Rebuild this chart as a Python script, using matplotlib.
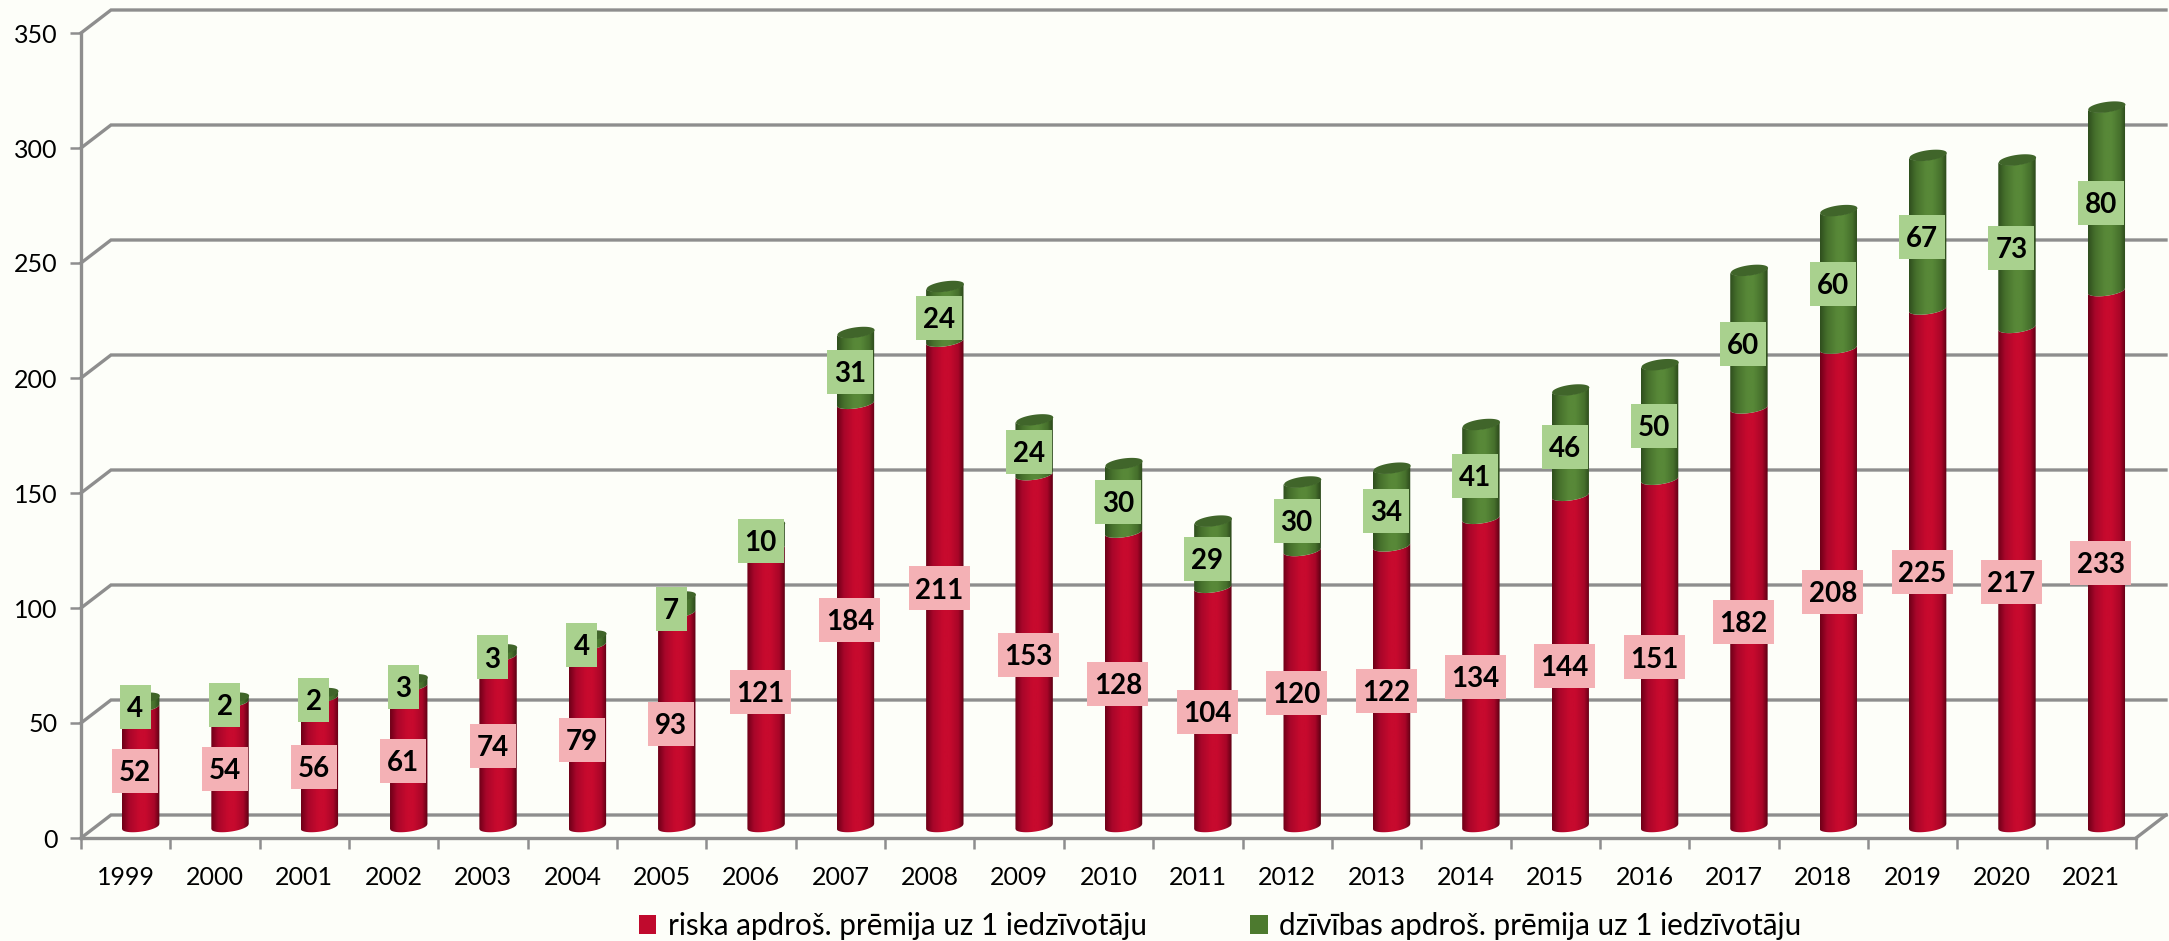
import numpy as np
import matplotlib
matplotlib.use("Agg")
import matplotlib.pyplot as plt
from matplotlib.colors import LinearSegmentedColormap
from matplotlib.patches import Rectangle, PathPatch
from matplotlib.path import Path

plt.rcParams['font.family'] = ['Lato', 'DejaVu Sans']

years = [str(y) for y in range(1999, 2022)]
risk = [52, 54, 56, 61, 74, 79, 93, 121, 184, 211, 153, 128, 104, 120, 122, 134, 144, 151, 182, 208, 225, 217, 233]
life = [4, 2, 2, 3, 3, 4, 7, 10, 31, 24, 24, 30, 29, 30, 34, 41, 46, 50, 60, 60, 67, 73, 80]
risk_name = "riska apdroš. prēmija uz 1 iedzīvotāju"
life_name = "dzīvības apdroš. prēmija uz 1 iedzīvotāju"
yticks = [0, 50, 100, 150, 200, 250, 300, 350]

W, H = 2169, 941
BG = '#FDFEF9'
GRID = '#8E8E8E'
fig = plt.figure(figsize=(W / 100, H / 100), dpi=100, facecolor=BG)
L, R, T, B = 81, 2136, 33, 838
ax = fig.add_axes([L / W, 1 - B / H, (R - L) / W, (B - T) / H])
ax.set_facecolor('none')
ax.set_xlim(-0.5, 22.5)
ax.set_ylim(0, 350)

pxx = (R - L) / 23     # px per category
pxy = (B - T) / 350    # px per value unit
DX, DY = 30 / pxx, 23 / pxy   # depth of the 3D box in data units

# walls
for v in yticks:
    ax.plot([-0.5, -0.5 + DX, 22.5 + DX],
            [v, v + DY, v + DY], color=GRID, lw=2.4, clip_on=False, zorder=1,
            solid_joinstyle='miter')
ax.plot([22.5, 22.5 + DX], [0, DY], color=GRID, lw=2.4, clip_on=False, zorder=1)

red_cm = LinearSegmentedColormap.from_list('r', [(0, '#6E0018'), (0.18, '#A8062A'), (0.45, '#C70A2E'),
                                                  (0.62, '#C70A2E'), (0.86, '#A80628'), (1, '#5E0014')])
grn_cm = LinearSegmentedColormap.from_list('g', [(0, '#2F4F1E'), (0.18, '#46702C'), (0.45, '#588838'),
                                                  (0.62, '#588838'), (0.86, '#46702C'), (1, '#2B481B')])
top_col = '#40652A'
grad = np.linspace(0, 1, 64)[None, :]

half_w = 18.7 / pxx
bminor = 5.2 / pxy
tilt = 0.13 * pxx / pxy   # rise in value per category


def ell(u, sign):
    """u in -1..1 over bar width: y offset of the tilted ellipse"""
    return tilt * half_w * u + sign * bminor * np.sqrt(1 - u ** 2)


u = np.linspace(-1, 1, 60)


def cylinder(xc, y0, y1, cmap, z):
    xs = xc + u * half_w
    lower = y0 + ell(u, -1)
    upper = y1 + ell(u[::-1], -1)
    verts = np.r_[np.c_[xs, lower], np.c_[xs[::-1], upper], [[xs[0], lower[0]]]]
    codes = [Path.MOVETO] + [Path.LINETO] * (len(verts) - 2) + [Path.CLOSEPOLY]
    im = ax.imshow(grad, cmap=cmap, extent=[xc - half_w, xc + half_w, y0 - 10, y1 + 10],
                   aspect='auto', zorder=z, clip_on=True, interpolation='bilinear')
    patch = PathPatch(Path(verts, codes), transform=ax.transData, fc='none', ec='none')
    ax.add_patch(patch)
    patch.set_clip_on(False)
    im.set_clip_path(patch)


xoff = 15 / pxx
base = 11.5 / pxy
for i, (r, g) in enumerate(zip(risk, life)):
    xc = i + xoff
    cylinder(xc, base, base + r, red_cm, 3)
    cylinder(xc, base + r, base + r + g, grn_cm, 3)
    xs = xc + u * half_w
    yt = base + r + g
    ax.fill_between(xs, yt + ell(u, -1), yt + ell(u, 1), color=top_col, lw=0, zorder=4, clip_on=False)

# data labels
lx = 9.5 / pxx
ly = 3
boxh = 44 / pxy
widths = {1: 31, 2: 46, 3: 61}


def label(x, y, val, col):
    s = str(val)
    w = widths[len(s)] / pxx
    ax.add_patch(Rectangle((x - w / 2, y - boxh / 2), w, boxh, fc=col, ec='none', zorder=5, clip_on=False))
    ax.text(x, y - 0.9, s, ha='center', va='center', fontsize=20, fontweight='bold', color='black', zorder=6)


for i, (r, g) in enumerate(zip(risk, life)):
    label(i + lx, r / 2 + ly, r, '#F4B1B5')
    label(i + lx, r + g / 2 + ly, g, '#A9D18E')

# axes
for s in ('top', 'right'):
    ax.spines[s].set_visible(False)
for s in ('left', 'bottom'):
    ax.spines[s].set_color(GRID)
    ax.spines[s].set_linewidth(2.4)
    ax.spines[s].set_zorder(2)
ax.set_yticks(yticks)
ax.set_xticks(np.arange(-0.5, 23, 1))
ax.set_xticklabels([])
ax.set_xticks(np.arange(23), labels=years, minor=True)
ax.tick_params(axis='y', length=8, width=1.8, color=GRID, labelsize=18, pad=9, labelcolor='black')
ax.tick_params(axis='x', which='major', length=8, width=1.8, color=GRID)
ax.tick_params(axis='x', which='minor', length=0, labelsize=18, pad=20, labelcolor='black')

# legend
h = [Rectangle((0, 0), 1, 1, fc='#C00A2D'), Rectangle((0, 0), 1, 1, fc='#4D7A2F')]
fig.legend(h, [risk_name, life_name], ncol=2, loc='center', bbox_to_anchor=(1220 / W, 1 - 926 / H),
           frameon=False, fontsize=21.3, handlelength=0.6, handleheight=0.6, handletextpad=0.38,
           columnspacing=3.5, borderpad=0)

fig.savefig('out.png', dpi=100, facecolor=BG)
